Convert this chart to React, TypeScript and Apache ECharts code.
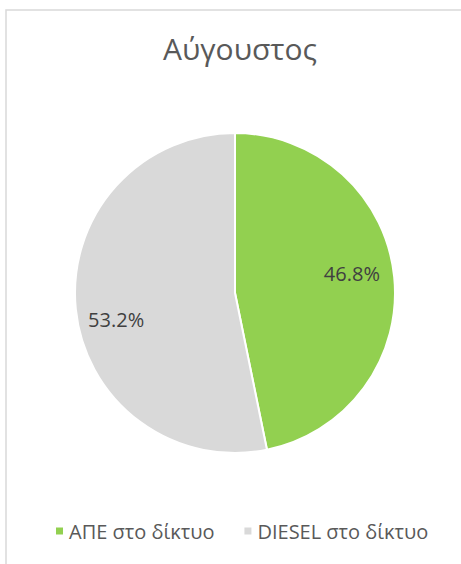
import React, { useEffect, useRef } from "react";
import * as echarts from "echarts";

const titleText = "Αύγουστος";
const categories = ["ΑΠΕ στο δίκτυο", "DIESEL στο δίκτυο"];
const values = [46.8, 53.2];
const colors = ["#92D050", "#D9D9D9"];
const labelOffsets = [
  [-4, -7],
  [2, 14],
];

export default function App() {
  const ref = useRef<HTMLDivElement>(null);
  useEffect(() => {
    if (!ref.current) return;
    const chart = echarts.init(ref.current, null, { renderer: "svg" });
    const data = categories.map((name, i) => ({
      name,
      value: values[i],
      itemStyle: { color: colors[i] },
    }));
    chart.setOption({
      animation: false,
      backgroundColor: "#ffffff",
      textStyle: { fontFamily: "Open Sans" },
      title: {
        text: titleText,
        left: 235,
        textAlign: "center",
        top: 28,
        textStyle: {
          fontFamily: "Open Sans",
          fontSize: 30,
          fontWeight: "normal",
          color: "#595959",
        },
      },
      legend: {
        data: categories,
        bottom: 18,
        left: 49,
        itemWidth: 9,
        itemHeight: 9,
        itemGap: 28,
        icon: "rect",
        textStyle: { fontFamily: "Open Sans", fontSize: 20, color: "#595959" },
      },
      graphic: [
        {
          type: "rect",
          shape: { x: 6, y: 10, width: 460, height: 570 },
          style: { fill: "none", stroke: "#D9D9D9", lineWidth: 1.5 },
          silent: true,
        },
      ],
      series: [
        {
          type: "pie",
          center: [235, 293],
          radius: [0, 160],
          startAngle: 90,
          clockwise: true,
          label: { show: false },
          labelLine: { show: false },
          itemStyle: { borderColor: "#ffffff", borderWidth: 2 },
          emphasis: { disabled: true },
          data,
        },
        {
          type: "pie",
          center: [235, 293],
          radius: [77, 160],
          startAngle: 90,
          clockwise: true,
          silent: true,
          itemStyle: { color: "rgba(0,0,0,0)", borderWidth: 0 },
          label: {
            show: true,
            position: "inside",
            formatter: (p: any) => p.value.toFixed(1) + "%",
            fontFamily: "Open Sans",
            fontSize: 20,
            color: "#404040",
          },
          labelLine: { show: false },
          emphasis: { disabled: true },
          data: categories.map((name, i) => ({
            name,
            value: values[i],
            itemStyle: { color: "rgba(0,0,0,0)" },
            label: { offset: labelOffsets[i] },
          })),
        },
      ],
    });
    return () => chart.dispose();
  }, []);
  return (
    <div
      ref={ref}
      style={{ position: "fixed", left: 0, top: 0, width: 461, height: 564 }}
    />
  );
}
